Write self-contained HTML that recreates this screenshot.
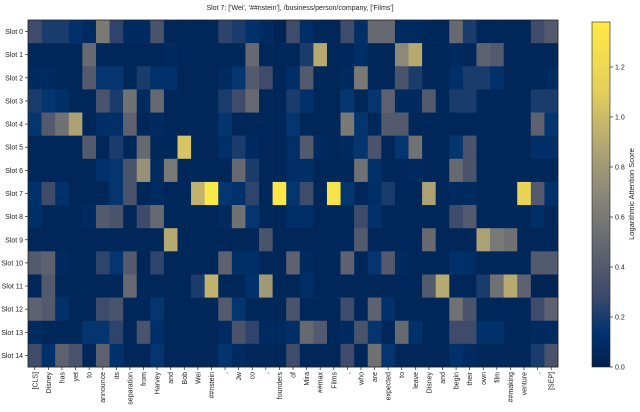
<!DOCTYPE html>
<html><head><meta charset="utf-8"><style>
body{margin:0;background:#fff;width:640px;height:407px;overflow:hidden;font-family:"Liberation Sans",sans-serif}
svg text{font-family:"Liberation Sans",sans-serif;fill:#222}
</style></head><body>
<svg id="chart" width="640" height="407" viewBox="0 0 640 407" xmlns="http://www.w3.org/2000/svg">
<defs>
<linearGradient id="cbg" x1="0" y1="1" x2="0" y2="0">
<stop offset="0" stop-color="#00204d"/><stop offset="0.1" stop-color="#00336f"/><stop offset="0.2" stop-color="#39486b"/><stop offset="0.3" stop-color="#575c6d"/><stop offset="0.4" stop-color="#707173"/><stop offset="0.5" stop-color="#8a8779"/><stop offset="0.6" stop-color="#a69d75"/><stop offset="0.7" stop-color="#c4b56c"/><stop offset="0.8" stop-color="#e4cf5b"/><stop offset="1" stop-color="#ffea46"/>
</linearGradient>
</defs>
<text x="300" y="10" font-size="7" text-anchor="middle">Slot 7: ['Wei', '##nstein'], /business/person/company, ['Films']</text>
<g id="cells"></g>
<rect x="28" y="20" width="530" height="347" fill="none" stroke="#222" stroke-width="0.8"/>
<g id="yaxis"></g><g id="xaxis"></g>
<rect x="592" y="22" width="18" height="345" fill="url(#cbg)" stroke="#222" stroke-width="0.6"/>
<g id="cbaxis"></g>
<text transform="translate(634,194) rotate(-90)" font-size="7.5" text-anchor="middle">Logarithmic Attention Score</text>
</svg>
<script>
const tokens=["[CLS]","Disney","has","yet","to","announce","its","separation","from","Harvey","and","Bob","Wei","##nstein",",","Jw","co",",","founders","of","Mira","##max","Films",",","who","are","expected","to","leave","Disney","and","begin","their","own","film","##making","venture",",","[SEP]"];
const slots=["Slot 0","Slot 1","Slot 2","Slot 3","Slot 4","Slot 5","Slot 6","Slot 7","Slot 8","Slot 9","Slot 10","Slot 11","Slot 12","Slot 13","Slot 14"];
const cbTicks=[0,0.2,0.4,0.6,0.8,1.0,1.2];
const vmax=1.38;
const rowOverrides=[
{0:.3,1:.2,2:.2,3:.12,4:.08,5:.6,6:.25,7:.08,8:.08,9:.35,14:.25,15:.2,16:.12,17:.08,18:.03,19:.3,20:.1,23:.3,24:.1,25:.5,26:.5,27:.08,28:.08,31:.5,32:.2,37:.3,38:.4},
{4:.5,10:.08,16:.5,20:.2,21:.9,24:.1,27:.7,28:.9,31:.08,33:.45,34:.4},
{0:.08,1:.08,4:.4,5:.15,6:.15,8:.2,9:.12,10:.12,14:.08,15:.15,16:.4,17:.3,19:.1,20:.4,23:.08,24:.6,27:.35,28:.2,31:.1,32:.2,33:.2,34:.12,38:.08},
{0:.2,1:.15,2:.1,5:.35,6:.2,7:.55,8:.08,9:.5,14:.2,15:.3,16:.5,19:.2,20:.12,23:.15,25:.15,26:.45,27:.08,28:.08,29:.4,31:.2,32:.2,37:.2,38:.2},
{0:.15,1:.4,2:.55,3:.85,5:.1,6:.1,7:.45,9:.08,14:.15,19:.15,23:.6,24:.15,26:.4,27:.4,37:.45,38:.15},
{4:.4,6:.2,8:.5,11:1.05,14:.1,15:.2,16:.08,19:.1,20:.4,21:.08,23:.08,24:.15,25:.35,27:.15,28:.55,31:.15,32:.35,37:.1,38:.1},
{5:.12,6:.15,7:.35,8:.75,9:.08,10:.6,15:.5,16:.2,19:.1,20:.1,24:.55,25:.12,28:.08,31:.5,32:.35},
{0:.12,1:.3,2:.12,6:.15,7:.35,9:.08,12:.95,13:1.35,14:.15,15:.12,16:.25,18:1.35,19:.15,20:.3,22:1.3,23:.15,25:.1,26:.2,29:.85,31:.08,32:.08,36:1.15,37:.4,38:.12},
{0:.1,4:.08,5:.4,6:.35,8:.3,9:.5,14:.08,15:.55,16:.15,19:.1,20:.1,24:.3,25:.12,31:.3,32:.4,37:.1},
{10:.9,17:.35,24:.4,29:.5,33:.85,34:.6,35:.55},
{0:.4,1:.45,2:.08,5:.25,6:.15,7:.4,9:.25,14:.45,15:.1,16:.1,19:.45,20:.08,23:.45,25:.15,26:.4,27:.08,31:.12,32:.1,37:.4,38:.4},
{1:.4,7:.5,12:.2,13:.95,16:.12,17:.8,20:.1,29:.4,30:.9,33:.2,34:.55,35:.9,36:.45,37:.03,38:.03},
{0:.45,1:.4,2:.12,5:.3,6:.35,9:.15,14:.4,15:.15,19:.35,23:.3,25:.45,26:.12,31:.55,32:.35,37:.3,38:.45},
{0:.08,4:.15,5:.15,6:.25,8:.35,9:.1,14:.08,15:.35,16:.25,17:.08,18:.08,19:.1,20:.5,21:.4,23:.08,24:.35,25:.15,27:.5,28:.12,31:.3,32:.3,33:.12,34:.12,37:.08,38:.08},
{0:.3,1:.12,2:.45,3:.35,5:.45,6:.12,9:.15,14:.15,15:.08,19:.3,23:.3,25:.55,26:.15,31:.12,32:.08,37:.2,38:.35}
];
const baseValue=0.05;
const values=rowOverrides.map(o=>tokens.map((_,j)=>o[j]!==undefined?o[j]:baseValue));

const NS="http://www.w3.org/2000/svg";
const X0=28,X1=558,Y0=20,Y1=367,CB0=367,CBTOP=22;
const cw=(X1-X0)/tokens.length, rh=(Y1-Y0)/slots.length;
const xPos=j=>X0+j*cw, yPos=i=>Y0+i*rh;
const cbY=v=>CB0-v*(CB0-CBTOP)/vmax;
const stops=[[0,[0,32,77]],[.1,[0,51,111]],[.2,[57,72,107]],[.3,[87,92,109]],[.4,[112,113,115]],[.5,[138,135,121]],[.6,[166,157,117]],[.7,[196,181,108]],[.8,[228,207,91]],[1,[255,234,70]]];
function cmap(v){let t=Math.max(0,Math.min(1,v/vmax));for(let k=1;k<stops.length;k++){if(t<=stops[k][0]){const [a,ca]=stops[k-1],[b,cb]=stops[k];const f=(t-a)/(b-a);return 'rgb('+ca.map((c,i)=>Math.round(c+(cb[i]-c)*f)).join(',')+')';}}return 'rgb(255,234,70)';}
function mk(tag,attrs,parent){const e=document.createElementNS(NS,tag);for(const k in attrs)e.setAttribute(k,attrs[k]);parent.appendChild(e);return e;}
const cells=document.getElementById('cells');
values.forEach((row,i)=>row.forEach((v,j)=>{
 const r=mk('rect',{x:xPos(j),y:yPos(i),width:cw+0.3,height:rh+0.3,fill:cmap(v)},cells);
 
 
}));
const ya=document.getElementById('yaxis');
slots.forEach((s,i)=>{
 const y=yPos(i)+rh/2;
 const tk=mk('line',{x1:X0-3,x2:X0,y1:y,y2:y,stroke:'#222','stroke-width':0.7},ya);
 
 
 const t=mk('text',{x:X0-5,y:y+2.5,'font-size':7,'text-anchor':'end'},ya);
 t.textContent=s;
 
 
});
const xa=document.getElementById('xaxis');
tokens.forEach((s,j)=>{
 const x=xPos(j)+cw/2;
 const tk=mk('line',{x1:x,x2:x,y1:Y1,y2:Y1+3,stroke:'#222','stroke-width':0.7},xa);
 
 
 const t=mk('text',{transform:`translate(${x+2.5},${Y1+5}) rotate(-90)`,'font-size':7,'text-anchor':'end'},xa);
 t.textContent=s;
 
 
});
const cba=document.getElementById('cbaxis');
cbTicks.forEach(v=>{
 const y=cbY(v);
 const tk=mk('line',{x1:610,x2:613,y1:y,y2:y,stroke:'#222','stroke-width':0.7},cba);
 
 
 const t=mk('text',{x:615,y:y+2.5,'font-size':7},cba);
 t.textContent=v.toFixed(1);
 
 
});
</script>
</body></html>
